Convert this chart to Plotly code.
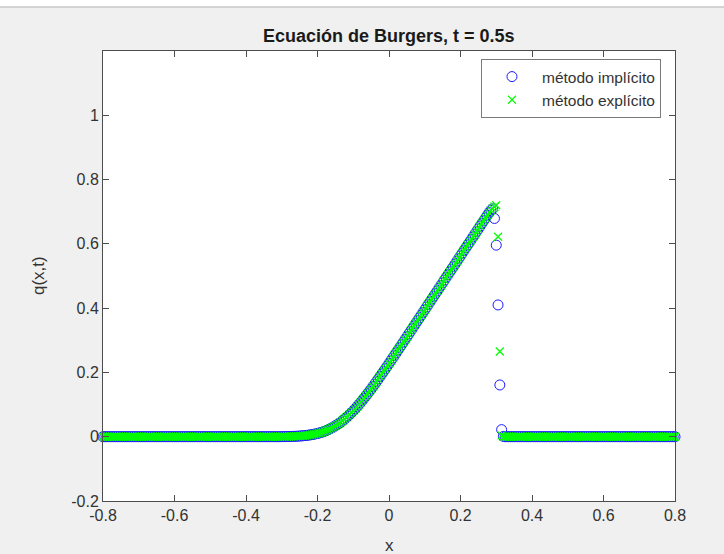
import plotly.graph_objects as go

# Spatial grid (step 0.005 on [-0.8, 0.8])
x = [
    -0.800, -0.795, -0.790, -0.785, -0.780, -0.775, -0.770, -0.765, -0.760, -0.755,
    -0.750, -0.745, -0.740, -0.735, -0.730, -0.725, -0.720, -0.715, -0.710, -0.705,
    -0.700, -0.695, -0.690, -0.685, -0.680, -0.675, -0.670, -0.665, -0.660, -0.655,
    -0.650, -0.645, -0.640, -0.635, -0.630, -0.625, -0.620, -0.615, -0.610, -0.605,
    -0.600, -0.595, -0.590, -0.585, -0.580, -0.575, -0.570, -0.565, -0.560, -0.555,
    -0.550, -0.545, -0.540, -0.535, -0.530, -0.525, -0.520, -0.515, -0.510, -0.505,
    -0.500, -0.495, -0.490, -0.485, -0.480, -0.475, -0.470, -0.465, -0.460, -0.455,
    -0.450, -0.445, -0.440, -0.435, -0.430, -0.425, -0.420, -0.415, -0.410, -0.405,
    -0.400, -0.395, -0.390, -0.385, -0.380, -0.375, -0.370, -0.365, -0.360, -0.355,
    -0.350, -0.345, -0.340, -0.335, -0.330, -0.325, -0.320, -0.315, -0.310, -0.305,
    -0.300, -0.295, -0.290, -0.285, -0.280, -0.275, -0.270, -0.265, -0.260, -0.255,
    -0.250, -0.245, -0.240, -0.235, -0.230, -0.225, -0.220, -0.215, -0.210, -0.205,
    -0.200, -0.195, -0.190, -0.185, -0.180, -0.175, -0.170, -0.165, -0.160, -0.155,
    -0.150, -0.145, -0.140, -0.135, -0.130, -0.125, -0.120, -0.115, -0.110, -0.105,
    -0.100, -0.095, -0.090, -0.085, -0.080, -0.075, -0.070, -0.065, -0.060, -0.055,
    -0.050, -0.045, -0.040, -0.035, -0.030, -0.025, -0.020, -0.015, -0.010, -0.005,
    0.000, 0.005, 0.010, 0.015, 0.020, 0.025, 0.030, 0.035, 0.040, 0.045,
    0.050, 0.055, 0.060, 0.065, 0.070, 0.075, 0.080, 0.085, 0.090, 0.095,
    0.100, 0.105, 0.110, 0.115, 0.120, 0.125, 0.130, 0.135, 0.140, 0.145,
    0.150, 0.155, 0.160, 0.165, 0.170, 0.175, 0.180, 0.185, 0.190, 0.195,
    0.200, 0.205, 0.210, 0.215, 0.220, 0.225, 0.230, 0.235, 0.240, 0.245,
    0.250, 0.255, 0.260, 0.265, 0.270, 0.275, 0.280, 0.285, 0.290, 0.295,
    0.300, 0.305, 0.310, 0.315, 0.320, 0.325, 0.330, 0.335, 0.340, 0.345,
    0.350, 0.355, 0.360, 0.365, 0.370, 0.375, 0.380, 0.385, 0.390, 0.395,
    0.400, 0.405, 0.410, 0.415, 0.420, 0.425, 0.430, 0.435, 0.440, 0.445,
    0.450, 0.455, 0.460, 0.465, 0.470, 0.475, 0.480, 0.485, 0.490, 0.495,
    0.500, 0.505, 0.510, 0.515, 0.520, 0.525, 0.530, 0.535, 0.540, 0.545,
    0.550, 0.555, 0.560, 0.565, 0.570, 0.575, 0.580, 0.585, 0.590, 0.595,
    0.600, 0.605, 0.610, 0.615, 0.620, 0.625, 0.630, 0.635, 0.640, 0.645,
    0.650, 0.655, 0.660, 0.665, 0.670, 0.675, 0.680, 0.685, 0.690, 0.695,
    0.700, 0.705, 0.710, 0.715, 0.720, 0.725, 0.730, 0.735, 0.740, 0.745,
    0.750, 0.755, 0.760, 0.765, 0.770, 0.775, 0.780, 0.785, 0.790, 0.795,
    0.800,
]

# Undisturbed state left of the rarefaction, x in [-0.800, -0.305]
q_flat_left = [
    0, 0, 0, 0, 0, 0, 0, 0, 0, 0,
    0, 0, 0, 0, 0, 0, 0, 0, 0, 0,
    0, 0, 0, 0, 0, 0, 0, 0, 0, 0,
    0, 0, 0, 0, 0, 0, 0, 0, 0, 0,
    0, 0, 0, 0, 0, 0, 0, 0, 0, 0,
    0, 0, 0, 0, 0, 0, 0, 0, 0, 0,
    0, 0, 0, 0, 0, 0, 0, 0, 0, 0,
    0, 0, 0, 0, 0, 0, 0, 0, 0, 0,
    0, 0, 0, 0, 0, 0, 0, 0, 0, 0,
    0, 0, 0, 0, 0, 0, 0, 0, 0, 0,
]

# Rarefaction ramp shared by both schemes, x in [-0.300, 0.280]
q_ramp = [
    0.0003, 0.0003, 0.0004, 0.0005, 0.0007, 0.0008, 0.0010, 0.0012, 0.0014, 0.0017,
    0.0021, 0.0025, 0.0030, 0.0035, 0.0041, 0.0049, 0.0057, 0.0066, 0.0077, 0.0089,
    0.0102, 0.0116, 0.0133, 0.0151, 0.0172, 0.0194, 0.0218, 0.0245, 0.0274, 0.0304,
    0.0338, 0.0374, 0.0412, 0.0452, 0.0496, 0.0542, 0.0590, 0.0640, 0.0694, 0.0749,
    0.0806, 0.0866, 0.0928, 0.0991, 0.1057, 0.1124, 0.1194, 0.1265, 0.1337, 0.1410,
    0.1485, 0.1561, 0.1637, 0.1715, 0.1794, 0.1873, 0.1953, 0.2033, 0.2114, 0.2196,
    0.2278, 0.2360, 0.2443, 0.2525, 0.2608, 0.2691, 0.2775, 0.2856, 0.2940, 0.3024,
    0.3108, 0.3192, 0.3276, 0.3360, 0.3444, 0.3528, 0.3612, 0.3696, 0.3780, 0.3864,
    0.3948, 0.4032, 0.4116, 0.4200, 0.4284, 0.4368, 0.4452, 0.4536, 0.4620, 0.4704,
    0.4788, 0.4872, 0.4956, 0.5040, 0.5124, 0.5208, 0.5292, 0.5376, 0.5460, 0.5544,
    0.5628, 0.5712, 0.5796, 0.5880, 0.5964, 0.6048, 0.6132, 0.6216, 0.6300, 0.6384,
    0.6468, 0.6552, 0.6636, 0.6720, 0.6804, 0.6888, 0.6972,
]

# Shock front, x in [0.285, 0.320]
q_shock_impl = [0.7040, 0.7090, 0.679, 0.596, 0.410, 0.161, 0.022, 0.001]
q_shock_expl = [0.7050, 0.7110, 0.7160, 0.720, 0.622, 0.265, 0.004, 0.000]

# Undisturbed state right of the shock, x in [0.325, 0.800]
q_flat_right = [
    0, 0, 0, 0, 0,
    0, 0, 0, 0, 0, 0, 0, 0, 0, 0,
    0, 0, 0, 0, 0, 0, 0, 0, 0, 0,
    0, 0, 0, 0, 0, 0, 0, 0, 0, 0,
    0, 0, 0, 0, 0, 0, 0, 0, 0, 0,
    0, 0, 0, 0, 0, 0, 0, 0, 0, 0,
    0, 0, 0, 0, 0, 0, 0, 0, 0, 0,
    0, 0, 0, 0, 0, 0, 0, 0, 0, 0,
    0, 0, 0, 0, 0, 0, 0, 0, 0, 0,
    0, 0, 0, 0, 0, 0, 0, 0, 0, 0,
    0,
]

q_impl = q_flat_left + q_ramp + q_shock_impl + q_flat_right
q_expl = q_flat_left + q_ramp + q_shock_expl + q_flat_right
assert len(x) == len(q_impl) == len(q_expl)

x_ticks = [-0.8, -0.6, -0.4, -0.2, 0, 0.2, 0.4, 0.6, 0.8]
x_tick_text = ["-0.8", "-0.6", "-0.4", "-0.2", "0", "0.2", "0.4", "0.6", "0.8"]
y_ticks = [-0.2, 0, 0.2, 0.4, 0.6, 0.8, 1]
y_tick_text = ["-0.2", "0", "0.2", "0.4", "0.6", "0.8", "1"]

FONT = "Liberation Sans, Arial, Helvetica, sans-serif"
AXIS_COLOR = "#4d4d4d"
TEXT_COLOR = "#333333"

fig = go.Figure()
fig.add_trace(go.Scatter(
    x=x, y=q_impl, mode="markers", name="método implícito",
    marker=dict(symbol="circle-open", size=10, color="#1a1aff",
                line=dict(width=1, color="#1a1aff")),
    cliponaxis=False,
))
fig.add_trace(go.Scatter(
    x=x, y=q_expl, mode="markers", name="método explícito",
    marker=dict(symbol="x-thin-open", size=8, color="#00ff00",
                line=dict(width=1.2, color="#00ff00")),
    cliponaxis=False,
))

axis_common = dict(
    showgrid=False, zeroline=False, showline=True, linecolor=AXIS_COLOR,
    linewidth=1, mirror="ticks", ticks="inside", ticklen=6,
    tickcolor=AXIS_COLOR, tickwidth=1,
    tickfont=dict(family=FONT, size=16, color=TEXT_COLOR),
)

fig.update_layout(
    width=724, height=554,
    margin=dict(l=103, r=49, t=51, b=53),
    paper_bgcolor="#f0f0f0", plot_bgcolor="#ffffff",
    font=dict(family=FONT, color=TEXT_COLOR),
    xaxis=dict(range=[-0.8, 0.8], tickvals=x_ticks, ticktext=x_tick_text,
               **axis_common),
    yaxis=dict(range=[-0.2, 1.2], tickvals=y_ticks, ticktext=y_tick_text,
               **axis_common),
    showlegend=True,
    legend=dict(
        x=0.6608, y=0.9822, xanchor="left", yanchor="top",
        bgcolor="#ffffff", bordercolor="#7a7a7a", borderwidth=1,
        font=dict(family=FONT, size=15.5, color=TEXT_COLOR),
        itemwidth=50, tracegroupgap=0,
    ),
    annotations=[
        dict(text="Ecuación de Burgers, t = 0.5s", xref="paper", yref="paper",
             x=0.5, y=1.0333, xanchor="center", yanchor="middle", showarrow=False,
             font=dict(family=FONT, size=18, color="#1a1a1a", weight="bold")),
        dict(text="x", xref="paper", yref="paper", x=0.5, y=-0.0978,
             xanchor="center", yanchor="middle", showarrow=False,
             font=dict(family=FONT, size=17, color=TEXT_COLOR)),
        dict(text="q(x,t)", xref="paper", yref="paper", x=-0.1136, y=0.5,
             xanchor="center", yanchor="middle", textangle=-90, showarrow=False,
             font=dict(family=FONT, size=17, color=TEXT_COLOR)),
    ],
    shapes=[
        # window strip above the figure canvas
        dict(type="rect", xref="paper", yref="paper", x0=-0.2, x1=1.1,
             y0=1.098, y1=1.2, fillcolor="#ffffff", line=dict(width=0), layer="below"),
        dict(type="line", xref="paper", yref="paper", x0=-0.2, x1=1.1,
             y0=1.098, y1=1.098, line=dict(color="#c8c8c8", width=1.5)),
    ],
)

fig.write_html("out.html")
